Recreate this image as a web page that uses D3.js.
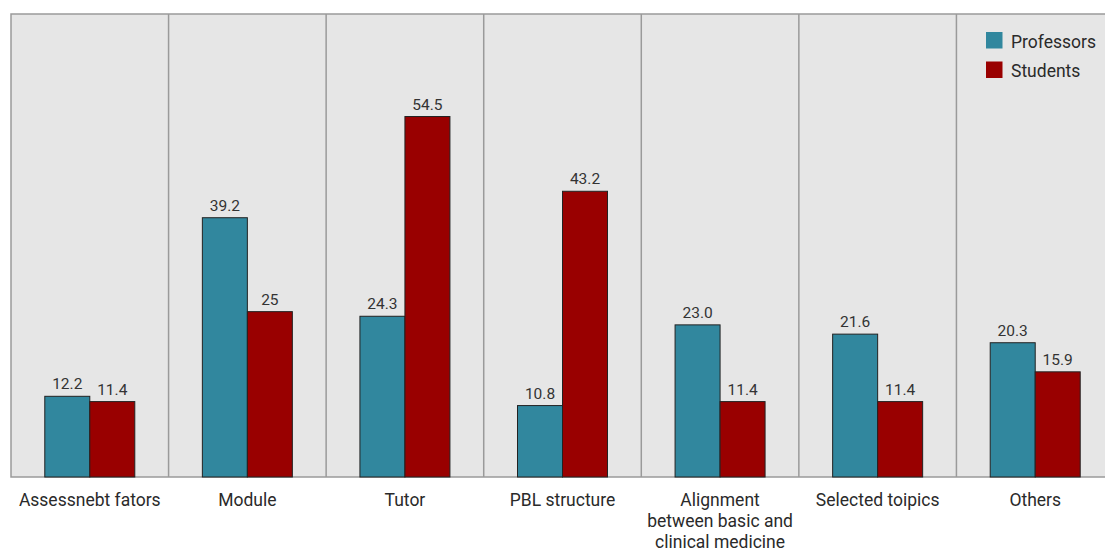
<!DOCTYPE html>
<html>
<head>
<meta charset="utf-8">
<script src="https://cdn.jsdelivr.net/npm/d3@7"></script>
<style>
  html, body { margin: 0; padding: 0; background: #fff; }
  svg { display: block; font-family: Roboto, "Noto Sans", sans-serif; }
</style>
</head>
<body>
<svg id="chart" width="1105" height="552"></svg>
<script>
// Categories and survey percentages
const categories = [
  "Assessnebt fators",
  "Module",
  "Tutor",
  "PBL structure",
  "Alignment\nbetween basic and\nclinical medicine",
  "Selected toipics",
  "Others"
];
const professors = [12.2, 39.2, 24.3, 10.8, 23.0, 21.6, 20.3];
const students   = [11.4, 25, 54.5, 43.2, 11.4, 11.4, 15.9];
const professorLabels = ["12.2", "39.2", "24.3", "10.8", "23.0", "21.6", "20.3"];
const studentLabels   = ["11.4", "25", "54.5", "43.2", "11.4", "11.4", "15.9"];
const seriesNames = ["Professors", "Students"];
const yDomain = [0, 70];

const colors = { Professors: "#31879e", Students: "#990000" };

const svg = d3.select("#chart");
const plotLeft = 11, plotTop = 14, plotBottom = 477, plotRight = 1114;

const x = d3.scaleBand().domain(d3.range(categories.length)).range([plotLeft, plotRight]).paddingInner(0).paddingOuter(0);
const y = d3.scaleLinear().domain(yDomain).range([plotBottom, plotTop]);
const barW = 45;

// Panel background
svg.append("rect")
  .attr("x", plotLeft).attr("y", plotTop)
  .attr("width", plotRight - plotLeft).attr("height", plotBottom - plotTop)
  .attr("fill", "#e6e6e6");

// Category separators
svg.append("g").selectAll("line")
  .data(d3.range(1, categories.length))
  .join("line")
  .attr("x1", d => x(d)).attr("x2", d => x(d))
  .attr("y1", plotTop).attr("y2", plotBottom)
  .attr("stroke", "#9a9a9a").attr("stroke-width", 1.5);

// Panel frame (top, left, bottom)
svg.append("path")
  .attr("d", `M${plotRight},${plotTop}H${plotLeft}V${plotBottom}H${plotRight}`)
  .attr("fill", "none").attr("stroke", "#9a9a9a").attr("stroke-width", 1.5);

// Bars
const rows = categories.map((c, i) => ({
  i,
  vals: [
    { s: "Professors", v: professors[i], label: professorLabels[i], off: -barW },
    { s: "Students", v: students[i], label: studentLabels[i], off: 0 }
  ]
}));

const groups = svg.append("g").selectAll("g")
  .data(rows).join("g");

groups.selectAll("rect")
  .data(d => d.vals.map(v => ({ ...v, i: d.i })))
  .join("rect")
  .attr("x", d => x(d.i) + x.bandwidth() / 2 + d.off)
  .attr("y", d => y(d.v))
  .attr("width", barW)
  .attr("height", d => y(0) - y(d.v))
  .attr("fill", d => colors[d.s])
  .attr("stroke", "#222")
  .attr("stroke-width", 1);

groups.selectAll("text")
  .data(d => d.vals.map(v => ({ ...v, i: d.i })))
  .join("text")
  .attr("x", d => x(d.i) + x.bandwidth() / 2 + d.off + barW / 2)
  .attr("y", d => y(d.v) - 7)
  .attr("text-anchor", "middle")
  .attr("font-size", 15.5)
  .attr("fill", "#333")
  .text(d => d.label);

// Category labels
const xl = svg.append("g").selectAll("text")
  .data(categories)
  .join("text")
  .attr("x", (d, i) => x(i) + x.bandwidth() / 2)
  .attr("y", 506)
  .attr("text-anchor", "middle")
  .attr("font-size", 17.5)
  .attr("fill", "#2a2a2a");
xl.each(function (d) {
  const t = d3.select(this);
  d.split("\n").forEach((line, k) => {
    t.append("tspan")
      .attr("x", t.attr("x"))
      .attr("dy", k === 0 ? 0 : 21)
      .text(line);
  });
});

// Legend
const legend = svg.append("g").attr("transform", "translate(986,32)");
seriesNames.forEach((s, k) => {
  const g = legend.append("g").attr("transform", `translate(0,${k * 29.5})`);
  g.append("rect").attr("width", 16.5).attr("height", 16.5).attr("fill", colors[s]);
  g.append("text").attr("x", 25).attr("y", 15.5)
    .attr("font-size", 17.5).attr("fill", "#2a2a2a").text(s);
});
</script>
</body>
</html>
